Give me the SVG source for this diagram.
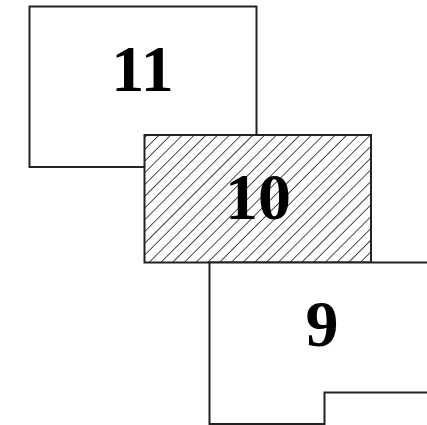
<svg xmlns="http://www.w3.org/2000/svg" width="427" height="425" viewBox="0 0 427 425">
  <style>
    .box { fill: #ffffff; stroke: #222222; stroke-width: 2; }
    .lbl { font-family: "Liberation Serif", "Times New Roman", serif; font-weight: bold; font-size: 66px; fill: #000000; text-anchor: middle; }
  </style>
  <defs>
    <pattern id="hatch" patternUnits="userSpaceOnUse" width="8.3" height="8.3" patternTransform="rotate(45)">
      <rect width="8.3" height="8.3" fill="#ffffff"/>
      <line x1="0" y1="0" x2="0" y2="8.3" stroke="#2a2a2a" stroke-width="1.7"/>
    </pattern>
  </defs>
  <rect width="427" height="425" fill="#ffffff"/>
  <g id="node-11">
    <rect class="box" x="29.5" y="6.5" width="227" height="160.5"/>
    <text class="lbl" x="142.5" y="90.5">11</text>
  </g>
  <g id="node-10">
    <rect class="box" x="144.5" y="135" width="226.5" height="127.5" style="fill:url(#hatch)"/>
    <text class="lbl" x="258" y="219">10</text>
  </g>
  <g id="node-9">
    <path class="box" d="M430,262.5 L209.5,262.5 L209.5,424 L324.5,424 L324.5,392.5 L430,392.5"/>
    <text class="lbl" x="322" y="345.5">9</text>
  </g>
  <g id="connectors"></g>
</svg>
